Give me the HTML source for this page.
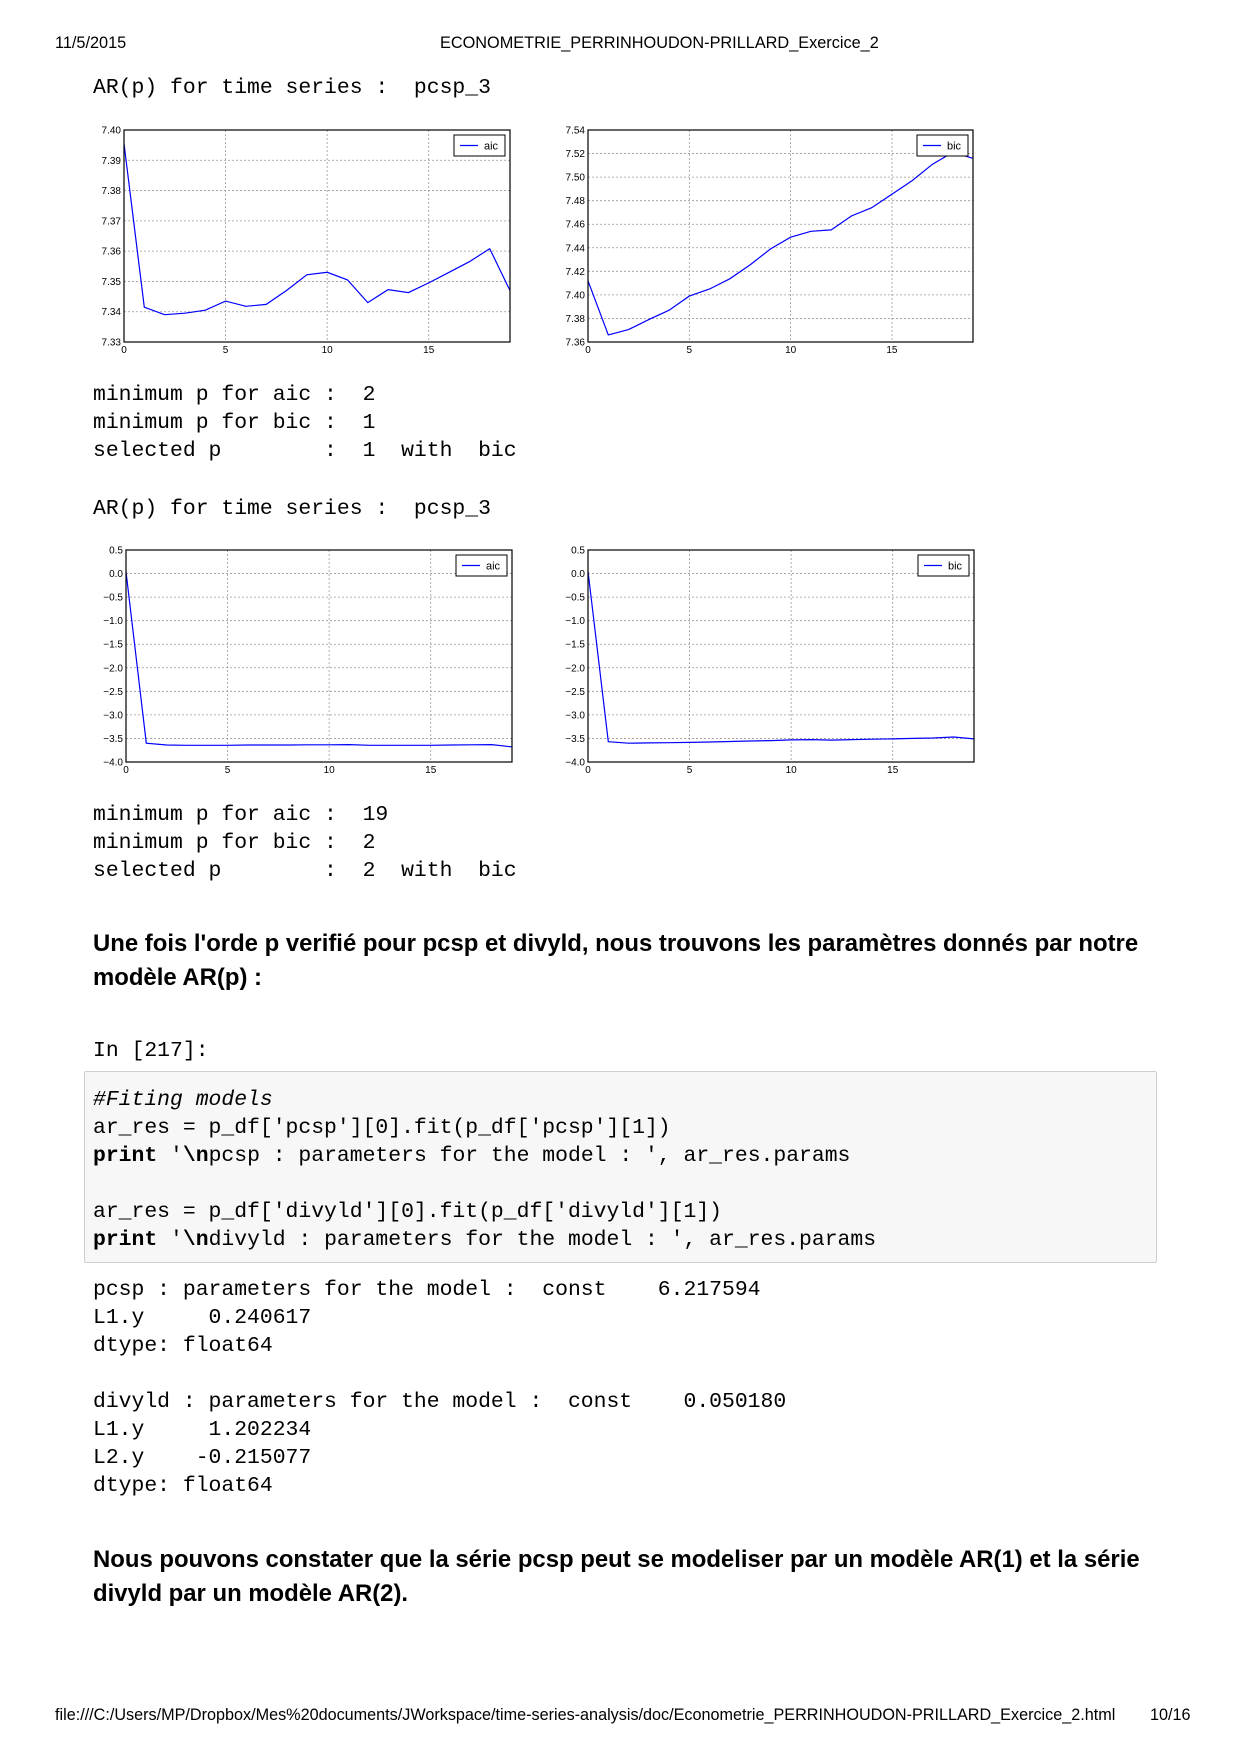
<!DOCTYPE html>
<html><head><meta charset="utf-8">
<style>
body{margin:0;background:#fff;}
#page{position:relative;width:1240px;height:1754px;overflow:hidden;background:#fff;color:#000;}
.t{position:absolute;white-space:pre;line-height:28px;}
.m{font-family:"Liberation Mono",monospace;font-size:21.4px;}
.s{font-family:"Liberation Sans",sans-serif;}
.b{font-family:"Liberation Sans",sans-serif;font-weight:bold;font-size:23.9px;line-height:34px;}
svg text{font-family:"Liberation Sans",sans-serif;}
</style></head>
<body><div id="page">
<div class="t s" style="left:55px;top:29px;font-size:16.3px;">11/5/2015</div>
<div class="t s" style="left:440px;top:29px;font-size:16.3px;">ECONOMETRIE_PERRINHOUDON-PRILLARD_Exercice_2</div>

<div class="t m" style="left:93px;top:74px;">AR(p) for time series :  pcsp_3</div>
<div class="t m" style="left:93px;top:381px;">minimum p for aic :  2</div>
<div class="t m" style="left:93px;top:409px;">minimum p for bic :  1</div>
<div class="t m" style="left:93px;top:437px;">selected p        :  1  with  bic</div>
<div class="t m" style="left:93px;top:495px;">AR(p) for time series :  pcsp_3</div>
<div class="t m" style="left:93px;top:801px;">minimum p for aic :  19</div>
<div class="t m" style="left:93px;top:829px;">minimum p for bic :  2</div>
<div class="t m" style="left:93px;top:857px;">selected p        :  2  with  bic</div>

<div class="t b" style="left:93px;top:927px;">Une fois l'orde p verifié pour pcsp et divyld, nous trouvons les paramètres donnés par notre
modèle AR(p) :</div>

<div class="t m" style="left:93px;top:1037px;">In [217]:</div>
<div style="position:absolute;left:84px;top:1071px;width:1071px;height:190px;border:1px solid #cfcfcf;background:#f7f7f7;border-radius:2px;"></div>
<div class="t m" style="left:93px;top:1086px;"><i>#Fiting models</i>
ar_res = p_df['pcsp'][0].fit(p_df['pcsp'][1])
<b>print</b> '<b>\n</b>pcsp : parameters for the model : ', ar_res.params

ar_res = p_df['divyld'][0].fit(p_df['divyld'][1])
<b>print</b> '<b>\n</b>divyld : parameters for the model : ', ar_res.params</div>
<div class="t m" style="left:93px;top:1276px;">pcsp : parameters for the model :  const    6.217594
L1.y     0.240617
dtype: float64

divyld : parameters for the model :  const    0.050180
L1.y     1.202234
L2.y    -0.215077
dtype: float64</div>

<div class="t b" style="left:93px;top:1543px;">Nous pouvons constater que la série pcsp peut se modeliser par un modèle AR(1) et la série
divyld par un modèle AR(2).</div>

<div class="t s" style="left:55px;top:1701px;font-size:16.2px;">file:///C:/Users/MP/Dropbox/Mes%20documents/JWorkspace/time-series-analysis/doc/Econometrie_PERRINHOUDON-PRILLARD_Exercice_2.html</div>
<div class="t s" style="left:1150px;top:1701px;font-size:16.2px;">10/16</div>

<svg id="charts" width="1240" height="1754" style="position:absolute;left:0;top:0;"></svg>
</div>
<script>
const lags = [0,1,2,3,4,5,6,7,8,9,10,11,12,13,14,15,16,17,18,19];
const aic1 = [7.3955,7.3415,7.339,7.3395,7.3405,7.3435,7.3418,7.3424,7.347,7.3522,7.353,7.3505,7.343,7.3473,7.3463,7.3495,7.353,7.3565,7.3608,7.347];
const bic1 = [7.412,7.366,7.3705,7.379,7.387,7.399,7.405,7.4137,7.4255,7.439,7.449,7.454,7.4552,7.467,7.474,7.4855,7.497,7.511,7.521,7.516];
const aic2 = [0.04,-3.6,-3.64,-3.645,-3.645,-3.645,-3.64,-3.64,-3.64,-3.635,-3.635,-3.63,-3.645,-3.645,-3.645,-3.645,-3.64,-3.635,-3.63,-3.68];
const bic2 = [0.05,-3.57,-3.6,-3.595,-3.59,-3.585,-3.575,-3.565,-3.555,-3.545,-3.53,-3.525,-3.535,-3.525,-3.515,-3.51,-3.5,-3.49,-3.47,-3.51];
const xTicks = [0,5,10,15];
const yTicks1a = [7.33,7.34,7.35,7.36,7.37,7.38,7.39,7.40];
const yTicks1b = [7.36,7.38,7.40,7.42,7.44,7.46,7.48,7.50,7.52,7.54];
const yTicks2 = [-4.0,-3.5,-3.0,-2.5,-2.0,-1.5,-1.0,-0.5,0.0,0.5];

const NS='http://www.w3.org/2000/svg';
const svg=document.getElementById('charts');
function mk(tag,attrs,parent){const e=document.createElementNS(NS,tag);for(const k in attrs)e.setAttribute(k,attrs[k]);(parent||svg).appendChild(e);return e;}
function fmt(v,dec){let s=Math.abs(v).toFixed(dec);return (v<-1e-9?'\u2212':'')+s;}
function chart(id,L,T,R,B,vals,yt,dec,label){
  const g=mk('g',{});
  
  
  const ymin=yt[0],ymax=yt[yt.length-1];
  const xs=v=>L+(v-0)/(19-0)*(R-L);
  const ys=v=>B-(v-ymin)/(ymax-ymin)*(B-T);
  xTicks.forEach(t=>{
    const x=xs(t);
    if(t>0){const gl=mk('line',{x1:x,x2:x,y1:T,y2:B,stroke:'#999','stroke-dasharray':'2,2','stroke-width':0.8},g);}
    const tx=mk('text',{x:x,y:B+11,'font-size':10,'text-anchor':'middle',fill:'#000'},g);tx.textContent=String(t);
    
  });
  yt.forEach((t,i)=>{
    const y=ys(t);
    if(i>0&&i<yt.length-1){const gl=mk('line',{x1:L,x2:R,y1:y,y2:y,stroke:'#999','stroke-dasharray':'2,2','stroke-width':0.8},g);}
    const tx=mk('text',{x:L-3,y:y+3.5,'font-size':10,'text-anchor':'end',fill:'#000'},g);tx.textContent=fmt(t,dec);
    
  });
  const pts=vals.map((v,i)=>xs(lags[i]).toFixed(1)+','+ys(v).toFixed(1)).join(' ');
  const pl=mk('polyline',{points:pts,fill:'none',stroke:'#0000ff','stroke-width':1.2},g);
  
  
  const fr=mk('rect',{x:L,y:T,width:R-L,height:B-T,fill:'none',stroke:'#000','stroke-width':1.2},g);
  
  
  const lg=mk('g',{},g);
  
  
  mk('rect',{x:R-56,y:T+5,width:51,height:21,fill:'#fff',stroke:'#000','stroke-width':1},lg);
  mk('line',{x1:R-50,x2:R-32,y1:T+15.5,y2:T+15.5,stroke:'#0000ff','stroke-width':1.2},lg);
  const lt=mk('text',{x:R-26,y:T+19.5,'font-size':11,fill:'#000'},lg);lt.textContent=label;
}
chart('aic-chart-1',124,130,510,342,aic1,yTicks1a,2,'aic');
chart('bic-chart-1',588,130,973,342,bic1,yTicks1b,2,'bic');
chart('aic-chart-2',126,550,512,762,aic2,yTicks2,1,'aic');
chart('bic-chart-2',588,550,974,762,bic2,yTicks2,1,'bic');
</script>
</body></html>
